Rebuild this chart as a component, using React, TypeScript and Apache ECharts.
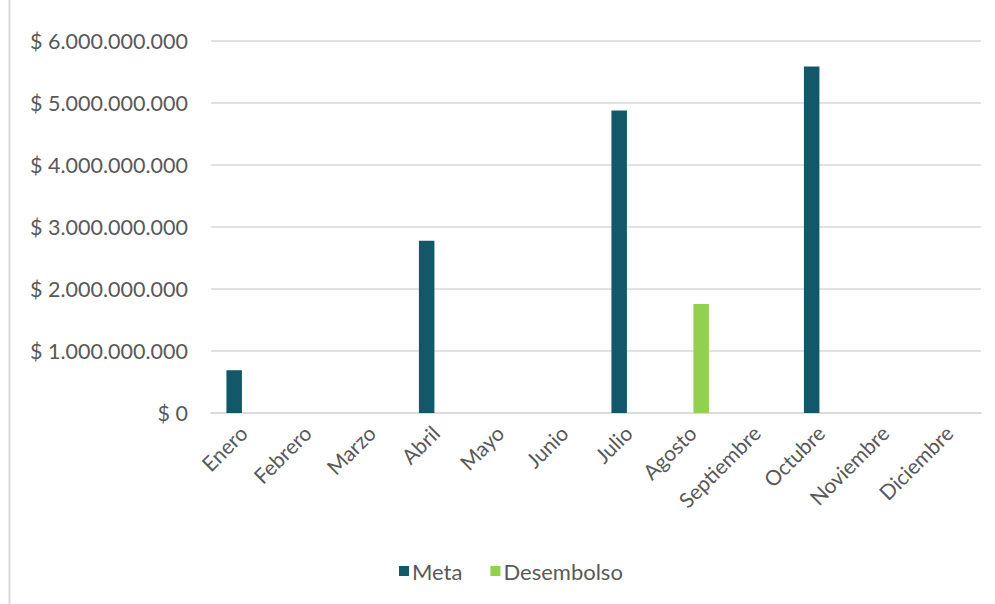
import React, { useEffect, useRef } from "react";
import * as echarts from "echarts";

const months = ["Enero", "Febrero", "Marzo", "Abril", "Mayo", "Junio", "Julio", "Agosto", "Septiembre", "Octubre", "Noviembre", "Diciembre"];
const meta = [690000000, 0, 0, 2780000000, 0, 0, 4880000000, 0, 0, 5590000000, 0, 0];
const desembolso = [0, 0, 0, 0, 0, 0, 0, 1757000000, 0, 0, 0, 0];
const yMax = 6000000000;
const yStep = 1000000000;

const fmt = (v: number) => "$ " + Math.round(v).toString().replace(/\B(?=(\d{3})+(?!\d))/g, ".");

export default function App() {
  const ref = useRef<HTMLDivElement>(null);
  useEffect(() => {
    document.body.style.margin = "0";
    const chart = echarts.init(ref.current!, undefined, { renderer: "svg" });
    const font = "Lato, 'Open Sans', sans-serif";
    chart.setOption({
      animation: false,
      backgroundColor: "#ffffff",
      textStyle: { fontFamily: font, color: "#595959" },
      grid: { left: 211, right: 14, top: 41, bottom: 191, containLabel: false },
      legend: {
        left: 394,
        top: 555,
        icon: "rect",
        itemWidth: 10,
        itemHeight: 10,
        itemGap: 28,
        textStyle: { fontFamily: font, fontSize: 22, color: "#595959", padding: [0, 0, 0, -2] },
        data: ["Meta", "Desembolso"],
      },
      xAxis: {
        type: "category",
        data: months,
        axisLine: { show: true, lineStyle: { color: "#d9d9d9", width: 1.5 } },
        axisTick: { show: false },
        axisLabel: { rotate: 45, fontSize: 21, color: "#595959", margin: 16, interval: 0, fontFamily: font },
      },
      yAxis: {
        type: "value",
        min: 0,
        max: yMax,
        interval: yStep,
        axisLine: { show: false },
        axisTick: { show: false },
        splitLine: { lineStyle: { color: "#d9d9d9", width: 1.5 } },
        axisLabel: { formatter: fmt, fontSize: 21.5, color: "#595959", margin: 23, fontFamily: font },
      },
      series: [
        { name: "Meta", type: "bar", data: meta, barWidth: 15.5, barGap: "15%", itemStyle: { color: "#135868" } },
        { name: "Desembolso", type: "bar", data: desembolso, barWidth: 15.5, itemStyle: { color: "#92d050" } },
      ],
      graphic: [
        { type: "line", shape: { x1: 9.5, y1: 0, x2: 9.5, y2: 604 }, style: { stroke: "#d9d9d9", lineWidth: 2 } },
      ],
    });
    return () => chart.dispose();
  }, []);
  return <div ref={ref} style={{ width: 995, height: 604 }} />;
}
